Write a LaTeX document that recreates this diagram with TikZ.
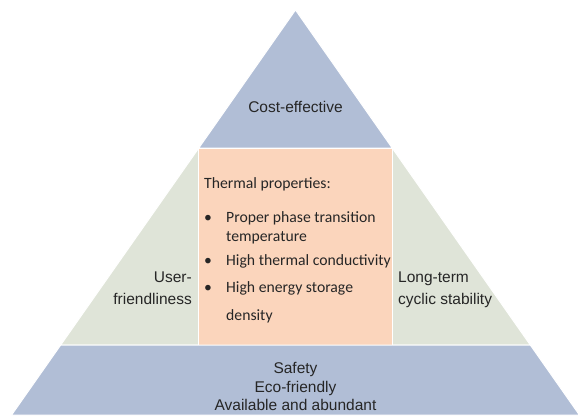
\documentclass[tikz,border=0pt]{standalone}
\usepackage{fontspec}
\setmainfont{Liberation Sans}
\newfontfamily\calibri{Carlito}
\definecolor{pyrblue}{RGB}{177,190,214}
\definecolor{pyrgreen}{RGB}{223,228,216}
\definecolor{pyrorange}{RGB}{251,213,188}
\tikzset{every picture/.append style={x=1pt, y=-1pt}}
\tikzset{
    band/.style={draw=white, line width=1pt},
    lbl/.style={anchor=base, inner sep=0pt, text=black!85,
    	font=\fontsize{15.5}{18}\selectfont},
    prop/.style={anchor=base west, inner sep=0pt, text=black!85,
    	font=\calibri\fontsize{15.7}{19}\selectfont}
}

\begin{document}
\begin{tikzpicture}
  \useasboundingbox (0,0) rectangle (578,415);
  \clip (0,0) rectangle (578,415);

  \coordinate (apex) at (295.5,10);
  \coordinate (tl) at (198.8,148); \coordinate (tr) at (392.2,148);
  \coordinate (ml) at (60.7,345);  \coordinate (mr) at (530.3,345);
  \coordinate (bl) at (11.6,415);  \coordinate (br) at (579.4,415);
  \coordinate (ol) at (198.8,345); \coordinate (or) at (392.2,345);

  \filldraw[band, fill=pyrblue] (apex) -- (tr) -- (tl) -- cycle;
  \filldraw[band, fill=pyrgreen] (tl) -- (ol) -- (ml) -- cycle;
  \filldraw[band, fill=pyrgreen] (tr) -- (or) -- (mr) -- cycle;
  \filldraw[band, fill=pyrorange] (tl) rectangle (or);
  \filldraw[band, fill=pyrblue] (ml) -- (mr) -- (br) -- (bl) -- cycle;

  \node (cost) [lbl] at (295.5,112.5) {Cost-effective};

  \node (user) [lbl, anchor=base east] at (192,282.5) {User-};
  \node (friend) [lbl, anchor=base east] at (192,304.5) {friendliness};
  \node (long) [lbl, anchor=base west] at (398,282.5) {Long-term};
  \node (cyclic) [lbl, anchor=base west] at (398,304.5) {cyclic stability};

  \node (thermal) [prop] at (204,188) {Thermal properties:};
  \foreach \y in {222,265,292}
    \node (b\y) [prop] at (204,\y) {\textbullet};
  \node (p1) [prop] at (226,222) {Proper phase transition};
  \node (p1b) [prop] at (226,241) {temperature};
  \node (p2) [prop] at (226,265) {High thermal conductivity};
  \node (p3) [prop] at (226,292) {High energy storage};
  \node (p3b) [prop] at (226,320) {density};

  \node (safety) [lbl] at (295.5,373.5) {Safety};
  \node (eco) [lbl] at (295.5,392.5) {Eco-friendly};
  \node (avail) [lbl] at (295.5,410.5) {Available and abundant};
\end{tikzpicture}
\end{document}
